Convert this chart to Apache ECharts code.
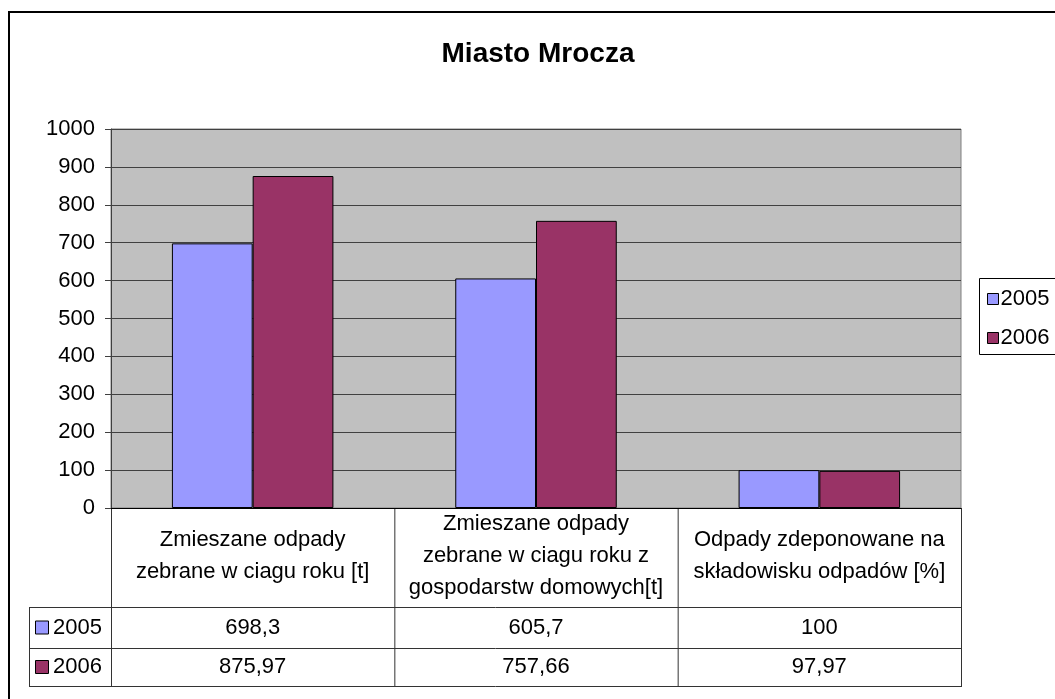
<!DOCTYPE html>
<html>
<head>
<meta charset="utf-8">
<script src="https://cdn.jsdelivr.net/npm/echarts@6/dist/echarts.min.js"></script>
<style>
  html, body { margin: 0; padding: 0; background: #fff; }
  #chart { width: 1055px; height: 699px; }
</style>
</head>
<body>
<div id="chart"></div>
<script>
// dane
const categories = [
  'Zmieszane odpady\nzebrane w ciagu roku [t]',
  'Zmieszane odpady\nzebrane w ciagu roku z\ngospodarstw domowych[t]',
  'Odpady zdeponowane na\nskładowisku odpadów [%]'
];
const seriesNames = ['2005', '2006'];
const values2005 = [698.3, 605.7, 100];
const values2006 = [875.97, 757.66, 97.97];
const yTicks = [0, 100, 200, 300, 400, 500, 600, 700, 800, 900, 1000];

const colors = ['#9999FF', '#993366'];
const font = 'Liberation Sans, Arial, sans-serif';
const fs = 22;

// geometria wykresu / tabeli
const gLeft = 111, gRight = 961, gTop = 129, gBottom = 508;
const rowTop = 607, rowMid = 648, rowEnd = 686, keyLeft = 29;
const colW = (gRight - gLeft) / categories.length;

const fmt = (v) => String(v).replace('.', ',');

let chart = echarts.init(document.getElementById('chart'), null, { renderer: 'canvas' });

let graphic = [];
// ramka zewnetrzna
graphic.push({
  type: 'rect', shape: { x: 9, y: 12, width: 1200, height: 900 },
  style: { fill: 'none', stroke: '#000', lineWidth: 2 }, silent: true
});
// ramka legendy (ucieta z prawej strony)
graphic.push({
  type: 'rect', shape: { x: 979.5, y: 278.5, width: 200, height: 76 },
  style: { fill: 'none', stroke: '#000', lineWidth: 1 }, silent: true
});
// linie tabeli
const lineStyle = { stroke: '#333', lineWidth: 1 };
const vx = [gLeft, gLeft + colW, gLeft + 2 * colW, gRight];
vx.forEach((x) => {
  graphic.push({ type: 'line', shape: { x1: x + 0.5, y1: gBottom, x2: x + 0.5, y2: rowEnd }, style: lineStyle });
});
graphic.push({ type: 'line', shape: { x1: keyLeft + 0.5, y1: rowTop, x2: keyLeft + 0.5, y2: rowEnd }, style: lineStyle });
[rowTop, rowMid, rowEnd].forEach((y) => {
  graphic.push({ type: 'line', shape: { x1: keyLeft, y1: y + 0.5, x2: gRight + 1, y2: y + 0.5 }, style: lineStyle });
});
// wiersze z wartosciami
const rows = [values2005, values2006];
const rowCenters = [(rowTop + rowMid) / 2, (rowMid + rowEnd) / 2];
rows.forEach((vals, r) => {
  const cy = rowCenters[r];
  graphic.push({
    type: 'rect', shape: { x: 35.5, y: cy - 6.5, width: 13, height: 13 },
    style: { fill: colors[r], stroke: '#000', lineWidth: 1 }
  });
  graphic.push({
    type: 'text', x: 53, y: cy,
    style: { text: seriesNames[r], font: fs + 'px ' + font, fill: '#000', verticalAlign: 'middle', align: 'left' }
  });
  vals.forEach((v, i) => {
    graphic.push({
      type: 'text', x: gLeft + (i + 0.5) * colW, y: cy,
      style: { text: fmt(v), font: fs + 'px ' + font, fill: '#000', verticalAlign: 'middle', align: 'center' }
    });
  });
});

let options = {
  backgroundColor: '#fff',
  animation: false,
  title: {
    text: 'Miasto Mrocza',
    left: 538,
    top: 40,
    textAlign: 'center',
    padding: 0,
    textStyle: { fontFamily: font, fontSize: 28, fontWeight: 'bold', color: '#000' }
  },
  legend: {
    orient: 'vertical',
    left: 979,
    top: 278,
    padding: [10, 0, 8, 8],
    itemGap: 17,
    itemWidth: 11,
    itemHeight: 11,
    borderWidth: 0,
    icon: 'rect',
    data: seriesNames,
    textStyle: { fontFamily: font, fontSize: fs, color: '#000', padding: [0, 0, 0, -3] },
    itemStyle: { borderColor: '#000', borderWidth: 1 }
  },
  grid: {
    left: gLeft,
    right: 1055 - gRight,
    top: gTop,
    bottom: 699 - gBottom,
    show: true,
    backgroundColor: '#C0C0C0',
    borderColor: '#808080',
    borderWidth: 1
  },
  xAxis: {
    type: 'category',
    data: categories,
    axisTick: { show: false },
    axisLine: { lineStyle: { color: '#000', width: 1 } },
    axisLabel: {
      interval: 0,
      margin: 48,
      verticalAlign: 'middle',
      lineHeight: 32,
      fontFamily: font,
      fontSize: fs,
      color: '#000'
    }
  },
  yAxis: {
    type: 'value',
    min: yTicks[0],
    max: yTicks[yTicks.length - 1],
    interval: 100,
    axisLine: { show: true, lineStyle: { color: '#404040' } },
    axisTick: { show: true, length: 6, lineStyle: { color: '#404040' } },
    axisLabel: { margin: 16, fontFamily: font, fontSize: fs, color: '#000', formatter: (v) => String(v) },
    splitLine: { show: true, lineStyle: { color: '#404040', width: 1 } }
  },
  series: [
    {
      name: seriesNames[0],
      type: 'bar',
      data: values2005,
      barGap: '0%',
      barCategoryGap: '43%',
      itemStyle: { color: colors[0], borderColor: '#000', borderWidth: 1 }
    },
    {
      name: seriesNames[1],
      type: 'bar',
      data: values2006,
      itemStyle: { color: colors[1], borderColor: '#000', borderWidth: 1 }
    }
  ],
  graphic: graphic
};

chart.setOption(options);
</script>
</body>
</html>
